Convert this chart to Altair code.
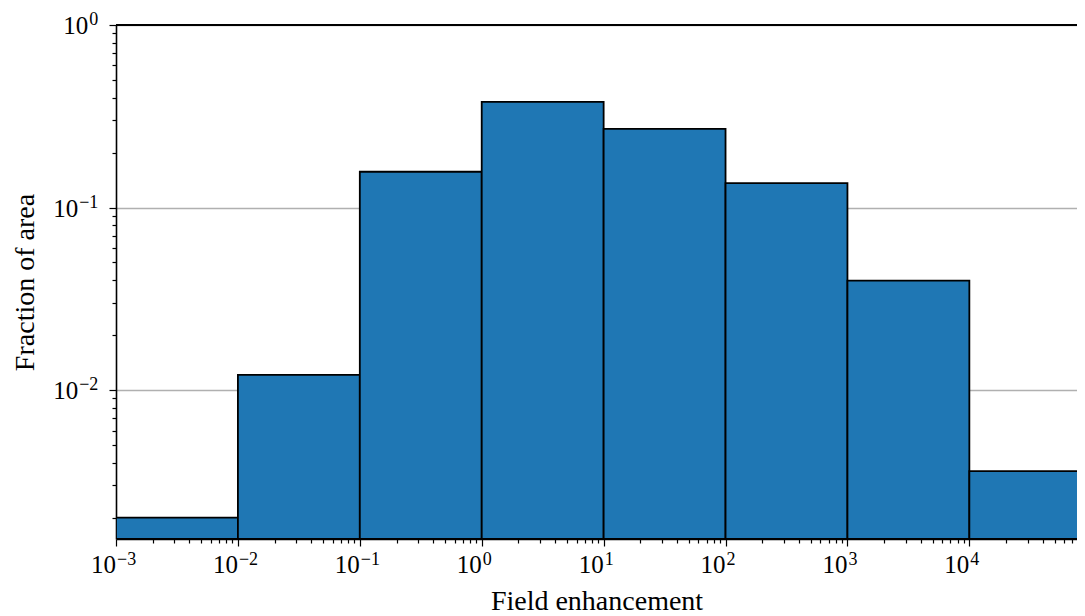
import altair as alt
import pandas as pd
import math

# --- data ---
bin_lo = [1e-3, 1e-2, 1e-1, 1e0, 1e1, 1e2, 1e3, 1e4]
bin_hi = [1e-2, 1e-1, 1e0, 1e1, 1e2, 1e3, 1e4, 1e5]
fraction = [0.0020, 0.0121, 0.157, 0.379, 0.270, 0.136, 0.0398, 0.0036]

x_major_exp = [-3, -2, -1, 0, 1, 2, 3, 4]
y_major_exp = [-2, -1, 0]

df = pd.DataFrame({"lo": bin_lo, "hi": bin_hi, "frac": fraction})


def exp_str(e):
    return str(e).replace("-", "\u2212")


xlab = pd.DataFrame({"value": [10.0 ** e for e in x_major_exp],
                     "base": ["10"] * len(x_major_exp),
                     "exp": [exp_str(e) for e in x_major_exp]})
ylab = pd.DataFrame({"value": [10.0 ** e for e in y_major_exp],
                     "base": ["10"] * len(y_major_exp),
                     "exp": [exp_str(e) for e in y_major_exp]})

W = 961
H = 514
XMIN, XMAX = 1e-3, 10 ** 4.883
YMIN, YMAX = 10 ** -2.816, 1.0

FONT = "Liberation Serif"
BASE_FS = 25
EXP_FS = 18
TITLE_FS = 28


def tick_values(lo, hi):
    vals = []
    for e in range(int(math.floor(math.log10(lo))), int(math.ceil(math.log10(hi))) + 1):
        for m in range(1, 10):
            v = m * 10 ** e
            if lo * 0.999 <= v <= hi * 1.001:
                vals.append(v)
    return vals


MAJOR_TEST = "abs(log(datum.value)/LN10 - round(log(datum.value)/LN10)) < 1e-6"


def make_axis(values, title, grid, tx, ty, tangle):
    return alt.Axis(
        values=values,
        labels=False,
        title=title,
        grid=grid,
        gridColor="#b0b0b0",
        gridWidth=1.5,
        gridOpacity={"condition": {"test": MAJOR_TEST, "value": 1}, "value": 0},
        tickSize={"condition": {"test": MAJOR_TEST, "value": 7}, "value": 4},
        tickColor="black",
        tickWidth=1.2,
        domainColor="black",
        domainWidth=1.6,
        titleFont=FONT,
        titleFontSize=TITLE_FS,
        titleFontWeight="normal",
        titleColor="black",
        titleX=tx,
        titleY=ty,
        titleAngle=tangle,
        titleAlign="center",
        titleBaseline="alphabetic",
    )


xscale = alt.Scale(type="log", domain=[XMIN, XMAX], nice=False)
yscale = alt.Scale(type="log", domain=[YMIN, YMAX], nice=False)
xaxis = make_axis(tick_values(XMIN, XMAX), "Field enhancement", False, W / 2, 70, 0)
yaxis = make_axis(tick_values(YMIN, YMAX), "Fraction of area", True, -83, H / 2, 270)

bars = alt.Chart(df).mark_rect(
    fill="#1f77b4", stroke="black", strokeWidth=1.8, clip=True
).encode(
    x=alt.X("lo:Q", scale=xscale, axis=xaxis),
    x2="hi:Q",
    y=alt.Y("frac:Q", scale=yscale, axis=yaxis),
    y2=alt.value(H),
)

top_spine = alt.Chart(df).mark_rule(color="black", strokeWidth=1.6).encode(
    y=alt.datum(YMAX, type="quantitative"),
    x=alt.value(0),
    x2=alt.value(W),
)

# x tick labels: "10" + raised exponent, centred as a whole on the tick
xl = alt.Chart(xlab).transform_calculate(
    ew="length(datum.exp) == 1 ? 9 : 19",
).transform_calculate(
    off="12.5 - datum.ew / 2",
)
x_base = xl.mark_text(font=FONT, fontSize=BASE_FS, align="right", baseline="alphabetic",
                      color="black").encode(
    x=alt.X("value:Q", scale=xscale, axis=xaxis),
    xOffset=alt.XOffset("off:Q", scale=None),
    y=alt.value(H + 34),
    text="base:N",
)
x_exp = xl.mark_text(font=FONT, fontSize=EXP_FS, align="left", baseline="alphabetic",
                     color="black", dx=1).encode(
    x=alt.X("value:Q", scale=xscale, axis=xaxis),
    xOffset=alt.XOffset("off:Q", scale=None),
    y=alt.value(H + 26),
    text="exp:N",
)

# y tick labels
yl = alt.Chart(ylab).transform_calculate(
    ew="length(datum.exp) == 1 ? 9 : 19",
).transform_calculate(
    negew="-datum.ew - 1",
)
y_exp = yl.mark_text(font=FONT, fontSize=EXP_FS, align="right", baseline="alphabetic",
                     color="black", dy=0).encode(
    x=alt.value(-17.7),
    y=alt.Y("value:Q", scale=yscale, axis=yaxis),
    text="exp:N",
)
y_base = yl.mark_text(font=FONT, fontSize=BASE_FS, align="right", baseline="alphabetic",
                      color="black", dy=9.4).encode(
    x=alt.value(-17.7),
    xOffset=alt.XOffset("negew:Q", scale=None),
    y=alt.Y("value:Q", scale=yscale, axis=yaxis),
    text="base:N",
)

chart = alt.layer(bars, top_spine, x_base, x_exp, y_exp, y_base).properties(
    width=W, height=H,
    autosize=alt.AutoSizeParams(type="none"),
    padding={"left": 108, "top": 17, "right": 0, "bottom": 75},
    background="white",
).configure_view(stroke=None)

chart.save("out.html", embed_options={"renderer": "svg", "actions": False})
